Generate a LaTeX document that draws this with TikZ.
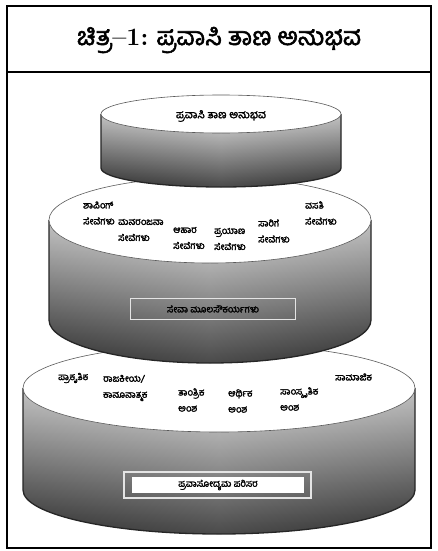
\documentclass[tikz,border=0pt]{standalone}
\usepackage{fontspec}
\newfontfamily\kn[Script=Kannada, AutoFakeBold=2.2]{Hind Mysuru}
\usepackage{tikz}
\usetikzlibrary{positioning}
\definecolor{drumlight}{HTML}{DADADA}
\definecolor{drummid}{HTML}{989898}
\definecolor{drumdark}{HTML}{363636}
\definecolor{rimgray}{HTML}{5A5A5A}
\definecolor{boxline}{HTML}{E4E4E4}

\tikzset{
  drumside/.style={top color=drumlight, middle color=drummid, bottom color=drumdark},
  drumedge/.style={left color=black, right color=black, middle color=white, opacity=0.1},
  drumrim/.style={draw=black!85, line width=1.3pt},
  drumface/.style={fill=white, draw=rimgray, line width=0.6pt},
  tierlabel/.style={font=\kn\bfseries\fontsize{9.5}{16}\selectfont, inner sep=0pt, anchor=west, align=left},
}

\begin{document}
\begin{tikzpicture}[x=1pt, y=-1pt]
  \useasboundingbox (0,0) rectangle (438,551);
  \fill[white] (0,0) rectangle (438,551);

  %% Frame and title
  \draw[line width=1.6pt] (7,6) rectangle (431,548);
  \draw[line width=1.2pt] (7,72) -- (431,72);
  \node[font=\kn\bfseries\fontsize{25}{28}\selectfont] (title) at (219,40)
    {ಚಿತ್ರ{\rmfamily\bfseries--1:} ಪ್ರವಾಸಿ ತಾಣ ಅನುಭವ};

  %% Bottom tier
  \shade[drumside] (23,388) -- (23,490) arc[start angle=180, end angle=0, x radius=196, y radius=44] -- (415,388) -- cycle;
  \shade[drumedge] (23,388) -- (23,490) arc[start angle=180, end angle=0, x radius=196, y radius=44] -- (415,388) -- cycle;
  \draw[drumrim] (23,388) -- (23,490) arc[start angle=180, end angle=0, x radius=196, y radius=44] -- (415,388);
  \draw[drumface] (219,388) ellipse [x radius=196, y radius=44];
  \node[tierlabel] (natural) at (58,378) {ಪ್ರಾಕೃತಿಕ};
  \node[tierlabel] (legal) at (103,388) {ರಾಜಕೀಯ/\\ಕಾನೂನಾತ್ಮಕ};
  \node[tierlabel] (techno) at (178,400) {ತಾಂತ್ರಿಕ\\ಅಂಶ};
  \node[tierlabel] (econ) at (228,401) {ಆರ್ಥಿಕ\\ಅಂಶ};
  \node[tierlabel] (culture) at (280,399) {ಸಾಂಸ್ಕೃತಿಕ\\ಅಂಶ};
  \node[tierlabel] (social) at (335,377) {ಸಾಮಾಜಿಕ};
  \draw[boxline, line width=1.2pt] (124,472) rectangle (311,498);
  \node[fill=white, minimum width=172pt, minimum height=16pt, inner sep=0pt,
    font=\kn\bfseries\fontsize{9.5}{10}\selectfont] (envbox) at (218,485) {ಪ್ರವಾಸೋದ್ಯಮ ಪರಿಸರ};

  %% Middle tier
  \shade[drumside] (49,220) -- (49,320) arc[start angle=180, end angle=0, x radius=161, y radius=43] -- (371,220) -- cycle;
  \shade[drumedge] (49,220) -- (49,320) arc[start angle=180, end angle=0, x radius=161, y radius=43] -- (371,220) -- cycle;
  \draw[drumrim] (49,220) -- (49,320) arc[start angle=180, end angle=0, x radius=161, y radius=43] -- (371,220);
  \draw[drumface] (210,220) ellipse [x radius=161, y radius=43];
  \node[tierlabel] (shop) at (83,213) {ಶಾಪಿಂಗ್\\ಸೇವೆಗಳು};
  \node[tierlabel] (fun) at (118,230) {ಮನರಂಜನಾ\\ಸೇವೆಗಳು};
  \node[tierlabel] (food) at (173,238) {ಆಹಾರ\\ಸೇವೆಗಳು};
  \node[tierlabel] (travel) at (214,239) {ಪ್ರಯಾಣ\\ಸೇವೆಗಳು};
  \node[tierlabel] (transport) at (258,231) {ಸಾರಿಗೆ\\ಸೇವೆಗಳು};
  \node[tierlabel] (stay) at (305,213) {ವಸತಿ\\ಸೇವೆಗಳು};
  \node[draw=boxline, line width=1.2pt, minimum width=165pt, minimum height=21pt, inner sep=0pt,
    font=\kn\bfseries\fontsize{9.5}{10}\selectfont] (infrabox) at (213,309) {ಸೇವಾ ಮೂಲಸೌಕರ್ಯಗಳು};

  %% Top tier
  \shade[drumside] (101,114) -- (101,168) arc[start angle=180, end angle=0, x radius=120, y radius=19] -- (341,114) -- cycle;
  \shade[drumedge] (101,114) -- (101,168) arc[start angle=180, end angle=0, x radius=120, y radius=19] -- (341,114) -- cycle;
  \draw[drumrim] (101,114) -- (101,168) arc[start angle=180, end angle=0, x radius=120, y radius=19] -- (341,114);
  \draw[drumface] (221,114) ellipse [x radius=120, y radius=19];
  \node[font=\kn\bfseries\fontsize{11}{12}\selectfont] (peak) at (221,116) {ಪ್ರವಾಸಿ ತಾಣ ಅನುಭವ};

\end{tikzpicture}
\end{document}
